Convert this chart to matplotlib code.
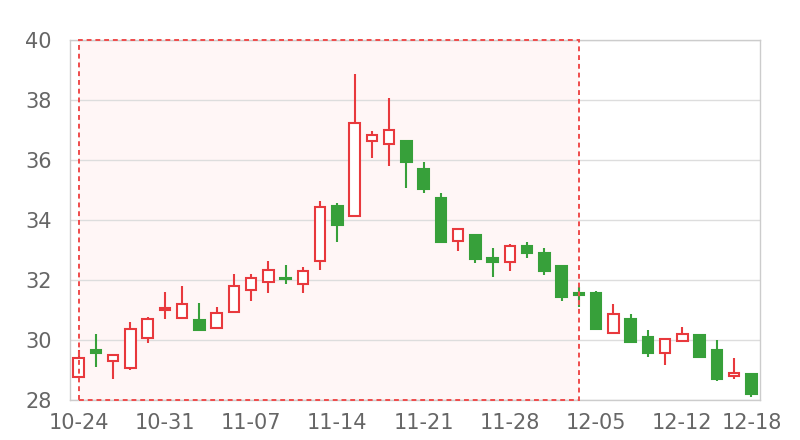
import matplotlib
matplotlib.use("Agg")
import matplotlib.pyplot as plt
from matplotlib.patches import Rectangle

dates = ['10-24', '10-25', '10-26', '10-27', '10-28',
         '10-31', '11-01', '11-02', '11-03', '11-04',
         '11-07', '11-08', '11-09', '11-10', '11-11',
         '11-14', '11-15', '11-16', '11-17', '11-18',
         '11-21', '11-22', '11-23', '11-24', '11-25',
         '11-28', '11-29', '11-30', '12-01', '12-02',
         '12-05', '12-06', '12-07', '12-08', '12-09',
         '12-12', '12-13', '12-14', '12-15', '12-18']

opens = [28.77, 29.67, 29.30, 29.08, 30.08, 31.00, 30.73, 30.67, 30.40, 30.94,
         31.67, 31.94, 32.08, 31.87, 32.63, 34.47, 34.14, 36.64, 36.53, 36.62,
         35.69, 34.72, 33.29, 33.49, 32.72, 32.61, 33.12, 32.91, 32.47, 31.56,
         31.56, 30.24, 30.69, 30.10, 29.57, 29.98, 30.16, 29.68, 28.80, 28.86]
closes = [29.39, 29.58, 29.49, 30.36, 30.70, 31.06, 31.21, 30.34, 30.89, 31.81,
          32.06, 32.33, 32.02, 32.29, 34.44, 33.82, 37.24, 36.82, 37.01, 35.94,
          35.03, 33.28, 33.69, 32.71, 32.60, 33.13, 32.89, 32.29, 31.42, 31.49,
          30.38, 30.88, 29.94, 29.57, 30.02, 30.20, 29.42, 28.71, 28.89, 28.21]
highs = [29.67, 30.20, 29.50, 30.59, 30.76, 31.61, 31.81, 31.22, 31.09, 32.19,
         32.19, 32.63, 32.50, 32.44, 34.64, 34.58, 38.86, 36.97, 38.07, 36.63,
         35.92, 34.89, 33.70, 33.50, 33.06, 33.20, 33.26, 33.07, 32.48, 31.78,
         31.63, 31.19, 30.86, 30.33, 30.03, 30.44, 30.17, 29.99, 29.40, 28.87]
lows = [28.75, 29.10, 28.69, 29.00, 29.89, 30.69, 30.72, 30.33, 30.40, 30.93,
        31.30, 31.56, 31.87, 31.58, 32.33, 33.26, 34.13, 36.08, 35.81, 35.08,
        34.89, 33.25, 32.97, 32.56, 32.10, 32.31, 32.74, 32.16, 31.29, 31.09,
        30.37, 30.22, 29.93, 29.42, 29.16, 29.97, 29.41, 28.63, 28.71, 28.10]

area_start, area_end = '10-24', '12-02'

up_color = '#e8393d'
down_color = '#37a03a'

fig = plt.figure(figsize=(8, 4.4), dpi=100)
ax = fig.add_axes([70 / 800, 40 / 440, 690 / 800, 360 / 440])

x = list(range(len(dates)))

# highlighted range
i0, i1 = dates.index(area_start), dates.index(area_end)
ax.add_patch(Rectangle((i0, 28), i1 - i0, 12, facecolor='#fff6f6',
                       edgecolor='none', zorder=0))
ax.add_patch(Rectangle((i0, 28), i1 - i0, 12, facecolor='none',
                       edgecolor='#ef4b4b', linewidth=1.4,
                       linestyle=(0, (2.5, 2)), zorder=5, clip_on=False))

for i in x:
    o, c, h, l = opens[i], closes[i], highs[i], lows[i]
    up = c >= o
    col = up_color if up else down_color
    ax.vlines(i, l, h, color=col, linewidth=1.5, zorder=2)
    bottom = min(o, c)
    height = max(abs(c - o), 0.06)
    ax.bar(i, height, bottom=bottom, width=0.62,
           facecolor='white' if up else down_color,
           edgecolor=col, linewidth=1.5, zorder=3)

ax.set_xlim(-0.5, len(dates) - 0.5)
ax.set_ylim(28, 40)
ax.set_yticks(range(28, 41, 2))

ticks = [i for i in x if i % 5 == 0] + [len(dates) - 1]
ax.set_xticks(ticks)
ax.set_xticklabels([dates[i] for i in ticks])

ax.yaxis.grid(True, color='#dddddd', linewidth=1)
ax.set_axisbelow(True)
for s in ax.spines.values():
    s.set_color('#cccccc')
    s.set_linewidth(1)

ax.tick_params(axis='both', length=0, labelsize=15, colors='#666666')
ax.tick_params(axis='y', pad=13)
ax.tick_params(axis='x', pad=9)

fig.savefig('out.png', dpi=100)
